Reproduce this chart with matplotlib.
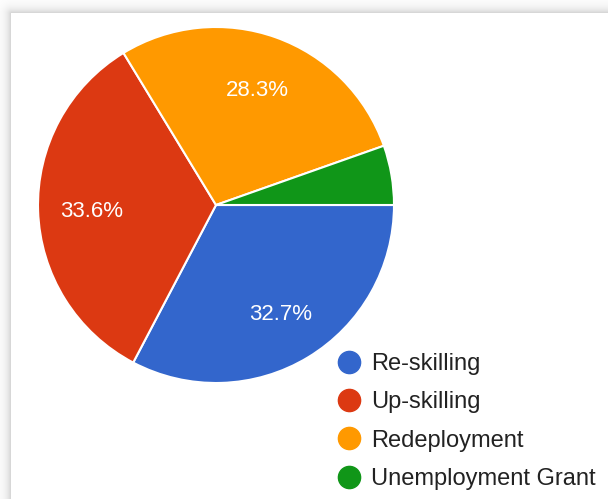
import numpy as np
import matplotlib
matplotlib.use("Agg")
import matplotlib.pyplot as plt
from matplotlib.lines import Line2D

categories = ["Re-skilling", "Up-skilling", "Redeployment", "Unemployment Grant"]
values = [32.7, 33.6, 28.3, 5.4]
colors = ["#3366CC", "#DC3912", "#FF9900", "#109618"]

W, H = 608, 499
fig = plt.figure(figsize=(W / 100, H / 100), dpi=100)

# background with shadow frame
bg = fig.add_axes([0, 0, 1, 1])
yy, xx = np.mgrid[0:H, 0:W]
px0, py0 = 11, 13
dx = np.clip(px0 - xx, 0, None)
dy = np.clip(py0 - yy, 0, None)
d = np.sqrt(dx ** 2 + dy ** 2)
inside = (xx >= px0) & (yy >= py0)
val = 255 - 48 * np.exp(-d / 5.0)
val[inside] = 255
img = np.dstack([val, val, val]) / 255.0
bg.imshow(img, extent=[0, W, H, 0], aspect="auto", interpolation="bilinear")
bg.set_axis_off()

cx, cy, r = 216, 205, 178
ax = fig.add_axes([(cx - r) / W, (H - cy - r) / H, 2 * r / W, 2 * r / H])


def fmt(p):
    return f"{p:.1f}%" if p >= 10 else ""


wedges, texts, autotexts = ax.pie(
    values, colors=colors, startangle=0, counterclock=False,
    autopct=fmt, pctdistance=0.70,
    wedgeprops=dict(edgecolor="white", linewidth=1.5),
    textprops=dict(color="white", fontsize=16, family="Liberation Sans"),
)
for t in autotexts:
    x, y = t.get_position()
    t.set_position((x, y - 0.015))
ax.set_xlim(-1, 1)
ax.set_ylim(-1, 1)
ax.set_axis_off()

handles = [Line2D([0], [0], marker="o", linestyle="none", markersize=16,
                  markerfacecolor=c, markeredgecolor=c) for c in colors]
leg = fig.legend(handles, categories, loc="upper left",
                 bbox_to_anchor=(334 / W, 1 - 353 / H),
                 frameon=False, handletextpad=0.28, labelspacing=0.69,
                 handlelength=1.3, borderpad=0, borderaxespad=0,
                 prop=dict(family="Liberation Sans", size=17))
for t in leg.get_texts():
    t.set_color("#222222")

fig.savefig("out.png", dpi=100)
